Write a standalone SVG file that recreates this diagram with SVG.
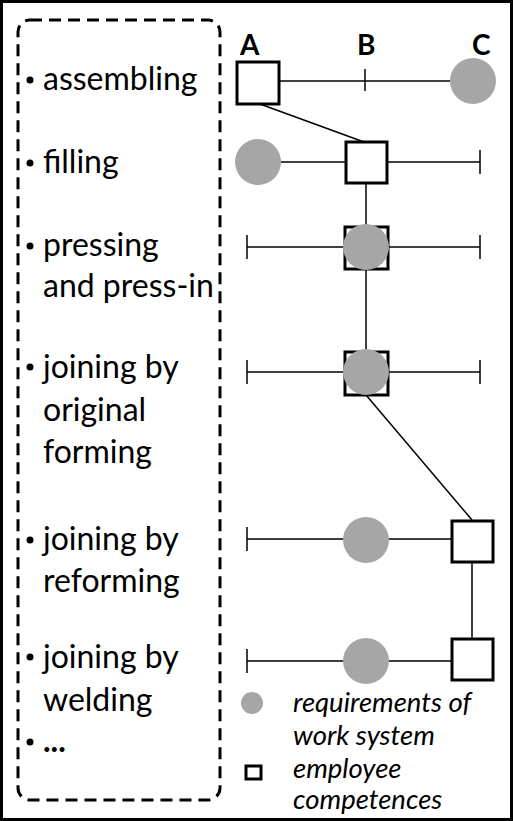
<svg xmlns="http://www.w3.org/2000/svg" width="513" height="821" viewBox="0 0 513 821">
<style>
.t{font-family:Lato,"Liberation Sans",sans-serif;font-size:32px;fill:#000}
.h{font-family:Lato,"Liberation Sans",sans-serif;font-size:28px;font-weight:bold;fill:#000}
.l{font-family:Lato,"Liberation Sans",sans-serif;font-size:27.5px;font-style:italic;fill:#000}
.sq{fill:#fff;stroke:#000;stroke-width:3}
.c{fill:#a6a6a6}
.ln{stroke:#000;stroke-width:1.5;fill:none}
</style>
<rect x="1.5" y="1.5" width="510" height="818" fill="#fff" stroke="#000" stroke-width="3"/>
<g id="list">
<rect x="18" y="20" width="202" height="780" rx="12" fill="none" stroke="#000" stroke-width="3" stroke-dasharray="12,7"/>
<g fill="#000">
<circle cx="30" cy="80" r="3.5"/><circle cx="30" cy="163" r="3.5"/><circle cx="30" cy="246" r="3.5"/>
<circle cx="30" cy="367" r="3.5"/><circle cx="30" cy="540" r="3.5"/><circle cx="30" cy="657" r="3.5"/><circle cx="30" cy="742" r="3.5"/>
</g>
<text class="t" x="43" y="90">assembling</text>
<text class="t" x="43" y="173">filling</text>
<text class="t" x="43" y="256">pressing</text>
<text class="t" x="43" y="297">and press-in</text>
<text class="t" x="43" y="378">joining by</text>
<text class="t" x="43" y="421">original</text>
<text class="t" x="43" y="463">forming</text>
<text class="t" x="43" y="550">joining by</text>
<text class="t" x="43" y="592">reforming</text>
<text class="t" x="43" y="668">joining by</text>
<text class="t" x="43" y="711">welding</text>
<text class="t" x="43" y="752" font-weight="bold">...</text>
</g>
<g id="headers">
<text class="h" x="240" y="55">A</text>
<text class="h" x="357" y="55">B</text>
<text class="h" x="472" y="55">C</text>
</g>
<g id="connectors">
<line class="ln" x1="279" y1="81" x2="450" y2="81"/>
<line class="ln" x1="365" y1="69" x2="365" y2="91"/>
<line class="ln" x1="260" y1="104" x2="364" y2="142"/>
<line class="ln" x1="258" y1="162" x2="480" y2="162"/>
<line class="ln" x1="480" y1="150" x2="480" y2="174"/>
<line class="ln" x1="366" y1="183" x2="366" y2="372"/>
<line class="ln" x1="247" y1="247" x2="480" y2="247"/>
<line class="ln" x1="247" y1="235" x2="247" y2="259"/>
<line class="ln" x1="480" y1="235" x2="480" y2="259"/>
<line class="ln" x1="247" y1="372" x2="480" y2="372"/>
<line class="ln" x1="247" y1="360" x2="247" y2="384"/>
<line class="ln" x1="480" y1="360" x2="480" y2="384"/>
<line class="ln" x1="366" y1="395" x2="472" y2="520"/>
<line class="ln" x1="247" y1="539" x2="452" y2="539"/>
<line class="ln" x1="247" y1="527" x2="247" y2="551"/>
<line class="ln" x1="472" y1="562" x2="472" y2="639"/>
<line class="ln" x1="247" y1="661" x2="452" y2="661"/>
<line class="ln" x1="247" y1="649" x2="247" y2="673"/>
</g>
<g id="assembling-A"><rect class="sq" x="237" y="62" width="42" height="42"/></g>
<g id="assembling-C"><circle class="c" cx="473" cy="81" r="23"/></g>
<g id="filling-A"><circle class="c" cx="258" cy="162" r="23"/></g>
<g id="filling-B"><rect class="sq" x="346" y="142" width="41" height="41"/></g>
<g id="pressing-B"><rect class="sq" x="345" y="227" width="43" height="42"/><circle class="c" cx="366" cy="247" r="23"/></g>
<g id="original-B"><rect class="sq" x="345" y="352" width="43" height="43"/><circle class="c" cx="366" cy="372" r="23"/></g>
<g id="reforming-B"><circle class="c" cx="366" cy="540" r="23"/></g>
<g id="reforming-C"><rect class="sq" x="452" y="521" width="41" height="41"/></g>
<g id="welding-B"><circle class="c" cx="366" cy="661" r="23"/></g>
<g id="welding-C"><rect class="sq" x="452" y="639" width="41" height="41"/></g>
<g id="legend">
<circle class="c" cx="252" cy="703" r="11"/>
<rect class="sq" x="246" y="766" width="15" height="13"/>
<text class="l" x="293" y="712">requirements of</text>
<text class="l" x="293" y="745">work system</text>
<text class="l" x="293" y="778">employee</text>
<text class="l" x="293" y="809">competences</text>
</g>
</svg>
